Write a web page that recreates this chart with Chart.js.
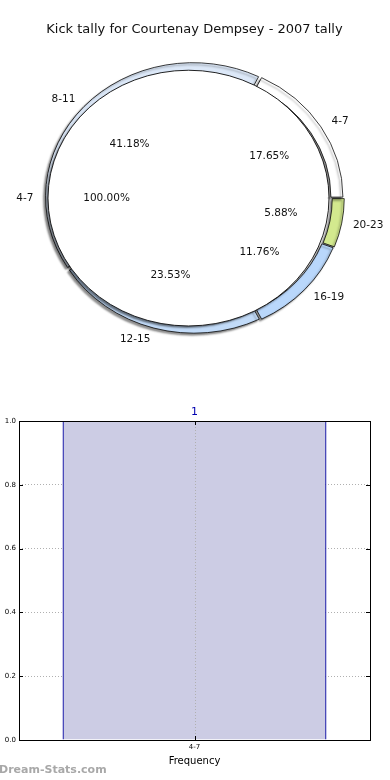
<!DOCTYPE html>
<html>
<head>
<meta charset="utf-8">
<script src="https://cdn.jsdelivr.net/npm/chart.js@4.4.1/dist/chart.umd.min.js"></script>
<style>
  html, body { margin: 0; padding: 0; background: #fff; }
  body { width: 390px; height: 780px; position: relative; overflow: hidden; font-family: 'DejaVu Sans', sans-serif; }
  #pieWrap { position: absolute; left: 0; top: 0; width: 390px; height: 390px; }
  #barWrap { position: absolute; left: 0; top: 400px; width: 390px; height: 380px; }
  #mark { position: absolute; left: -1px; top: 763px; font: bold 11px 'DejaVu Sans', sans-serif; color: #a8a8a8; }
</style>
</head>
<body>
<div id="pieWrap"><canvas id="pie" width="390" height="390"></canvas></div>
<div id="barWrap"><canvas id="bar" width="390" height="380"></canvas></div>
<div id="mark">Dream-Stats.com</div>
<script>
// ---- data ----
var kickBands = ['4-7', '8-11', '12-15', '16-19', '20-23'];
var kickCounts = [3, 7, 4, 2, 1];
var bandColours = ['#ffffff', '#dce8f8', '#c2dbf8', '#b9d7fb', '#d3e98e'];
var innerBands = ['4-7'];
var innerCounts = [1];
var freqCats = ['4-7'];
var freqValues = [1];

var SY = 0.91;        // source pie is squashed in y
var PIE_R = 146.5;
var INNER_OFF = 24;   // chart.js shifts by offset/4 and grows radius by offset/4

function pct(v, arr) { var t = arr.reduce(function (a, b) { return a + b; }, 0); return (v / t * 100).toFixed(2) + '%'; }

// matplotlib goes counter-clockwise from east; chart.js clockwise -> reverse
var rb = kickBands.slice().reverse(), rc = kickCounts.slice().reverse(), rcol = bandColours.slice().reverse();

function setShadow(ct, on) {
  ct.shadowColor = on ? 'rgba(0,0,0,0.45)' : 'transparent';
  ct.shadowBlur = on ? 2 : 0; ct.shadowOffsetX = on ? -2 : 0; ct.shadowOffsetY = on ? 2 : 0;
}

var squash = {
  id: 'squash',
  beforeDatasetsDraw: function (ch) {
    var a = ch.getDatasetMeta(0).data[0]; if (!a) return;
    var ct = ch.ctx; ct.save();
    ct.translate(a.x, a.y); ct.scale(1, SY); ct.translate(-a.x, -a.y);
  },
  beforeDatasetDraw: function (ch, args) {
    var ct = ch.ctx;
    if (args.index === 0) { setShadow(ct, true); return; }
    setShadow(ct, false);
    // drop shadow of the inner pie, kept outside the pie itself
    var a = ch.getDatasetMeta(1).data[0], sh = INNER_OFF / 4, r = a.outerRadius + sh, cx = a.x - sh;
    ct.save();
    ct.beginPath(); ct.rect(-1000, -1000, 2600, 3000); ct.arc(cx, a.y, r, 0, Math.PI * 2); ct.clip('evenodd');
    ct.shadowColor = 'rgba(0,0,0,0.5)'; ct.shadowBlur = 2; ct.shadowOffsetX = -2000 - 2; ct.shadowOffsetY = 2;
    ct.fillStyle = '#000';
    ct.beginPath(); ct.arc(cx + 2000, a.y, r, 0, Math.PI * 2); ct.fill();
    ct.restore();
  },
  afterDatasetDraw: function (ch, args) {
    if (args.index !== 1) return;
    // outline of the whole-circle wedge (its own border would draw a radius line)
    var a = ch.getDatasetMeta(1).data[0], ct = ch.ctx, sh = INNER_OFF / 4;
    ct.save(); setShadow(ct, false);
    ct.strokeStyle = '#000'; ct.lineWidth = 0.9;
    ct.beginPath(); ct.arc(a.x - sh, a.y, a.outerRadius + sh, 0, Math.PI * 2); ct.stroke();
    ct.restore();
  },
  afterDatasetsDraw: function (ch) {
    var ct = ch.ctx; ct.restore();
    ct.save(); setShadow(ct, false);
    ct.font = '10.5px "DejaVu Sans"'; ct.fillStyle = '#111'; ct.textBaseline = 'middle';
    [0, 1].forEach(function (di) {
      var m = ch.getDatasetMeta(di), src = di === 0 ? rc : innerCounts, names = di === 0 ? rb : innerBands;
      m.data.forEach(function (arc, i) {
        var mid = di === 1 ? Math.PI : (arc.startAngle + arc.endAngle) / 2;
        var c = Math.cos(mid), s = Math.sin(mid);
        ct.textAlign = c > 0 ? 'left' : 'right';
        ct.fillText(names[i], arc.x + c * PIE_R * 1.1, arc.y + s * PIE_R * 1.1 * SY);
        ct.textAlign = 'center';
        ct.fillText(pct(src[i], src), arc.x + c * PIE_R * 0.6, arc.y + s * PIE_R * 0.6 * SY);
      });
    });
    ct.restore();
  }
};

new Chart(document.getElementById('pie'), {
  type: 'doughnut',
  data: {
    labels: rb,
    datasets: [
      { data: rc, backgroundColor: rcol, borderColor: '#000', borderWidth: 0.8, radius: PIE_R, weight: 12, offset: 8, order: 1, clip: false },
      { data: innerCounts, backgroundColor: ['#ffffff'], borderWidth: 0, radius: PIE_R, weight: 134.5, offset: INNER_OFF, order: 0, clip: false }
    ]
  },
  options: {
    responsive: false, animation: false, cutout: 0, rotation: 90,
    layout: { padding: { left: 0, right: 1, top: 0, bottom: 41.4 } },
    plugins: {
      legend: { display: false }, tooltip: { enabled: false },
      title: { display: true, text: 'Kick tally for Courtenay Dempsey - 2007 tally', color: '#111', font: { family: 'DejaVu Sans', size: 13, weight: 'normal' }, padding: { top: 22, bottom: 10 } }
    }
  },
  plugins: [squash]
});

// ---- frequency bar ----
var frame = {
  id: 'frame',
  afterDatasetsDraw: function (ch) {
    var ct = ch.ctx, a = ch.chartArea, m = ch.getDatasetMeta(0), xs = ch.scales.x, ys = ch.scales.y;
    ct.save();
    // centre grid line sits above the bar in the source
    ct.strokeStyle = '#b0b0b0'; ct.lineWidth = 1; ct.setLineDash([1, 2]);
    var gx = Math.round(xs.getPixelForTick(0)) + 0.5;
    ct.beginPath(); ct.moveTo(gx, a.top); ct.lineTo(gx, a.bottom); ct.stroke();
    ct.setLineDash([]);
    ct.strokeStyle = '#000';
    ys.ticks.forEach(function (t) {
      var y = Math.round(ys.getPixelForValue(t.value)) + 0.5;
      ct.beginPath(); ct.moveTo(a.left, y); ct.lineTo(a.left + 4, y); ct.moveTo(a.right, y); ct.lineTo(a.right - 4, y); ct.stroke();
    });
    ct.beginPath(); ct.moveTo(gx, a.bottom); ct.lineTo(gx, a.bottom - 4); ct.moveTo(gx, a.top); ct.lineTo(gx, a.top + 4); ct.stroke();
    ct.strokeRect(Math.round(a.left) + 0.5, Math.round(a.top) + 0.5, Math.round(a.right - a.left), Math.round(a.bottom - a.top));
    ct.font = '11px "DejaVu Sans"'; ct.fillStyle = '#0000b0'; ct.textAlign = 'center'; ct.textBaseline = 'middle';
    m.data.forEach(function (b, i) { ct.fillText(String(freqValues[i]), b.x, b.y - 9); });
    ct.restore();
  }
};

new Chart(document.getElementById('bar'), {
  type: 'bar',
  data: {
    labels: freqCats,
    datasets: [{ data: freqValues, backgroundColor: '#cccce4', borderColor: '#0000a0', borderWidth: { left: 1.3, right: 1.3, top: 1, bottom: 0 }, borderSkipped: false, barPercentage: 0.752, categoryPercentage: 1 }]
  },
  options: {
    responsive: false, animation: false,
    layout: { padding: { left: 0, right: 20, top: 21, bottom: 0 } },
    plugins: { legend: { display: false }, tooltip: { enabled: false } },
    scales: {
      x: {
        grid: { display: false, drawTicks: false },
        border: { display: false },
        ticks: { color: '#000', font: { family: 'DejaVu Sans', size: 7 }, padding: 3 },
        title: { display: true, text: 'Frequency', color: '#000', font: { family: 'DejaVu Sans', size: 10 }, padding: { top: 0, bottom: 13 } },
        afterFit: function (s) { s.height = 40; }
      },
      y: {
        min: 0, max: 1,
        grid: { color: '#b0b0b0', lineWidth: 1, drawTicks: false },
        border: { display: false, dash: [1, 2] },
        ticks: { stepSize: 0.2, color: '#000', font: { family: 'DejaVu Sans', size: 7 }, padding: 3, callback: function (v) { return (+v).toFixed(1); } },
        afterFit: function (s) { s.width = 19; }
      }
    }
  },
  plugins: [frame]
});
</script>
</body>
</html>
